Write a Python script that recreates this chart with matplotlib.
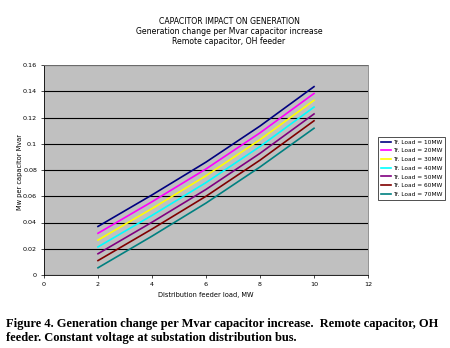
import matplotlib
matplotlib.use('Agg')
import matplotlib.pyplot as plt

carga_alimentador = [2, 4, 6, 8, 10]
rotulos = ['Tr. Load = 10MW', 'Tr. Load = 20MW', 'Tr. Load = 30MW', 'Tr. Load = 40MW',
           'Tr. Load = 50MW', 'Tr. Load = 60MW', 'Tr. Load = 70MW']
carga_10 = [0.0370, 0.0610, 0.0860, 0.1135, 0.1435]
carga_20 = [0.0318, 0.0558, 0.0808, 0.1083, 0.1383]
carga_30 = [0.0266, 0.0506, 0.0756, 0.1031, 0.1331]
carga_40 = [0.0214, 0.0454, 0.0704, 0.0979, 0.1279]
carga_50 = [0.0162, 0.0402, 0.0652, 0.0927, 0.1227]
carga_60 = [0.0110, 0.0350, 0.0600, 0.0875, 0.1175]
carga_70 = [0.0055, 0.0296, 0.0548, 0.0823, 0.1118]
cores = ['#000080', '#FF00FF', '#FFFF00', '#00FFFF', '#800080', '#800000', '#008080']

series = [carga_10, carga_20, carga_30, carga_40, carga_50, carga_60, carga_70]

fig = plt.figure(figsize=(4.5, 3.48), dpi=100)
ax = fig.add_axes([44/450, 1 - 275/348, 324/450, 210/348])
ax.set_facecolor('#C0C0C0')

for valores, cor, rotulo in zip(series, cores, rotulos):
    ax.plot(carga_alimentador, valores, color=cor, lw=1.2, label=rotulo)

ax.set_xlim(0, 12)
ax.set_ylim(0, 0.16)
ax.set_xticks([0, 2, 4, 6, 8, 10, 12])
ax.set_yticks([0, 0.02, 0.04, 0.06, 0.08, 0.1, 0.12, 0.14, 0.16])
ax.set_yticklabels(['0', '0.02', '0.04', '0.06', '0.08', '0.1', '0.12', '0.14', '0.16'])
ax.yaxis.grid(True, color='black', lw=0.8)
ax.set_axisbelow(True)
ax.tick_params(labelsize=4.6, length=2, width=0.5, pad=3)
for lado in ['top', 'right']:
    ax.spines[lado].set_color('#808080')
for lado in ['left', 'bottom']:
    ax.spines[lado].set_color('black')
for s in ax.spines.values():
    s.set_linewidth(0.6)

ax.set_xlabel('Distribution feeder load, MW', fontsize=4.8, labelpad=4)
fig.text(20/450, 1 - 172/348, 'Mw per capacitor Mvar', rotation=90, fontsize=4.8,
         ha='center', va='center')

fig.text(229/450, 1 - 22/348, 'CAPACITOR IMPACT ON GENERATION', fontsize=5.6, ha='center', va='center')
fig.text(229/450, 1 - 31.5/348, 'Generation change per Mvar capacitor increase', fontsize=5.6, ha='center', va='center')
fig.text(229/450, 1 - 41.5/348, 'Remote capacitor, OH feeder', fontsize=5.6, ha='center', va='center')

leg = fig.legend(loc='upper left', bbox_to_anchor=(378/450, 1 - 137/348), fontsize=4.2,
                 frameon=True, fancybox=False, handlelength=1.8, handletextpad=0.3,
                 labelspacing=0.62, borderpad=0.45, borderaxespad=0)
leg.get_frame().set_edgecolor('black')
leg.get_frame().set_linewidth(0.6)

fig.text(6/450, 1 - 324/348,
         'Figure 4. Generation change per Mvar capacitor increase.  Remote capacitor, OH',
         fontsize=9, fontweight='bold', family='Liberation Serif', va='center')
fig.text(6/450, 1 - 338/348,
         'feeder. Constant voltage at substation distribution bus.',
         fontsize=9, fontweight='bold', family='Liberation Serif', va='center')

plt.savefig('out.png', dpi=100)
